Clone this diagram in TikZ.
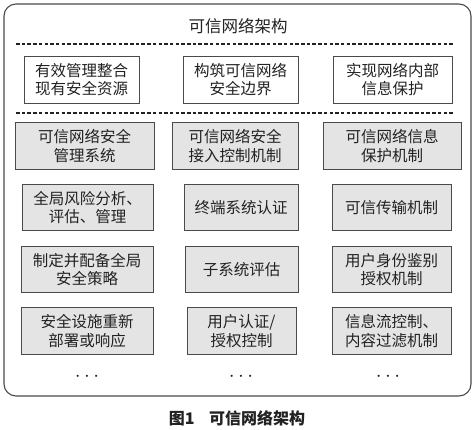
\documentclass[tikz,border=0pt]{standalone}
\usepackage{fontspec}
\setmainfont{Noto Sans CJK SC}
\definecolor{txt}{HTML}{222222}
\definecolor{edge}{HTML}{4A4A4A}
\definecolor{fillg}{HTML}{E4E4E4}
\begin{document}
\begin{tikzpicture}[x=1pt,y=-1pt,
  every node/.style={text=txt,font=\fontsize{15.5}{18.5}\selectfont},
  whitebox/.style={draw=edge,line width=0.9pt,fill=white,inner sep=0pt,align=center,minimum height=47pt},
  graybox/.style={draw=edge,line width=0.9pt,fill=fillg,inner sep=0pt,align=center,minimum height=46.5pt},
  sepline/.style={draw=txt,line width=1.4pt,dash pattern=on 3.5pt off 2.2pt},
  frame/.style={draw=edge,line width=1.1pt,rounded corners=12pt},
  dotsnode/.style={font=\fontsize{21}{22}\selectfont}]
\useasboundingbox (0,0) rectangle (476,430);
\draw[frame] (4,4) rectangle (471,396);
\node[font=\fontsize{16.5}{19}\selectfont] (title) at (238,26) {可信网络架构};
\coordinate (l1a) at (16,44); \coordinate (l1b) at (454,44);
\coordinate (l2a) at (16,113); \coordinate (l2b) at (454,113);
\draw[sepline] (l1a) -- (l1b);
\draw[sepline] (l2a) -- (l2b);
% top goals
\node[whitebox,minimum width=115pt] (a1) at (81.5,79.5) {有效管理整合\\现有安全资源};
\node[whitebox,minimum width=115pt] (a2) at (240.5,79.5) {构筑可信网络\\安全边界};
\node[whitebox,minimum width=119pt] (a3) at (392.5,79.5) {实现网络内部\\信息保护};
% row 1
\node[graybox,minimum width=139pt] (b1) at (84.5,146) {可信网络安全\\管理系统};
\node[graybox,minimum width=126pt] (b2) at (235,146) {可信网络安全\\接入控制机制};
\node[graybox,minimum width=138pt] (b3) at (392,146) {可信网络信息\\保护机制};
% row 2
\node[graybox,minimum width=131pt] (c1) at (87.5,207.5) {全局风险分析、\\评估、管理};
\node[graybox,minimum width=114pt] (c2) at (241,207.5) {终端系统认证};
\node[graybox,minimum width=119pt] (c3) at (391.5,207.5) {可信传输机制};
% row 3
\node[graybox,minimum width=132pt] (d1) at (87,269.5) {制定并配备全局\\安全策略};
\node[graybox,minimum width=113pt] (d2) at (241.5,269.5) {子系统评估};
\node[graybox,minimum width=119pt] (d3) at (391.5,269.5) {用户身份鉴别\\授权机制};
% row 4
\node[graybox,minimum width=132pt] (e1) at (87,331) {安全设施重新\\部署或响应};
\node[graybox,minimum width=109pt] (e2) at (241.5,331) {用户认证/\\授权控制};
\node[graybox,minimum width=119pt] (e3) at (391.5,331) {信息流控制、\\内容过滤机制};
% dots
\node[dotsnode] (f1) at (87,377) {$\cdots$};
\node[dotsnode] (f2) at (241,377) {$\cdots$};
\node[dotsnode] (f3) at (388,377) {$\cdots$};
% caption
\node[font=\fontsize{16}{18}\selectfont\bfseries] (cap) at (237,418) {图1\hspace{0.9em}可信网络架构};
\end{tikzpicture}
\end{document}
